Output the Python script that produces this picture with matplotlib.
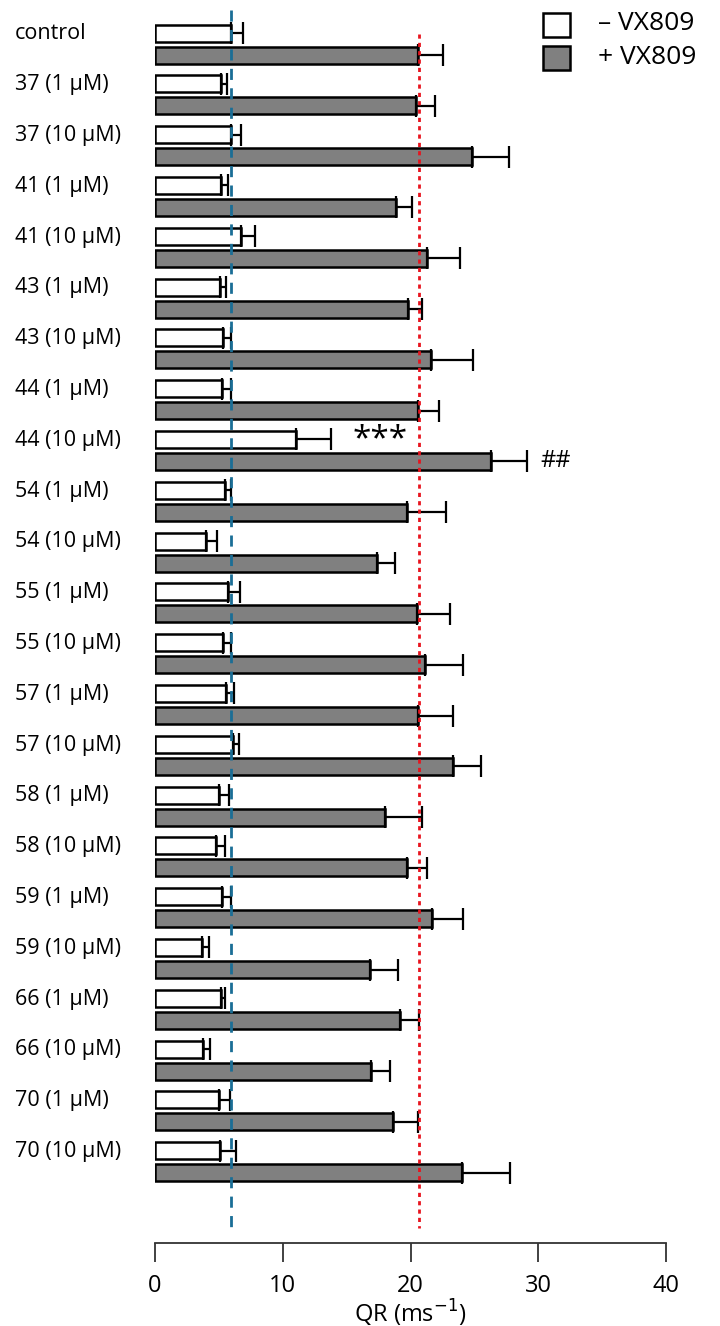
import matplotlib
matplotlib.use("Agg")
import matplotlib.pyplot as plt
import numpy as np
from matplotlib.patches import Rectangle
from matplotlib.transforms import blended_transform_factory

plt.rcParams['font.family'] = ['Open Sans', 'DejaVu Sans']

labels = ["control", "37 (1 µM)", "37 (10 µM)", "41 (1 µM)", "41 (10 µM)", "43 (1 µM)", "43 (10 µM)",
          "44 (1 µM)", "44 (10 µM)", "54 (1 µM)", "54 (10 µM)", "55 (1 µM)", "55 (10 µM)",
          "57 (1 µM)", "57 (10 µM)", "58 (1 µM)", "58 (10 µM)", "59 (1 µM)", "59 (10 µM)",
          "66 (1 µM)", "66 (10 µM)", "70 (1 µM)", "70 (10 µM)"]
minus_vx = [5.92, 5.14, 5.92, 5.14, 6.7, 5.06, 5.35, 5.26, 11.0, 5.49, 4.02, 5.75, 5.32,
            5.52, 6.13, 5.0, 4.77, 5.23, 3.64, 5.14, 3.76, 5.0, 5.12]
minus_err = [0.96, 0.52, 0.78, 0.58, 1.16, 0.49, 0.57, 0.69, 2.8, 0.46, 0.81, 0.9, 0.6,
             0.64, 0.43, 0.78, 0.69, 0.72, 0.55, 0.35, 0.52, 0.84, 1.21]
plus_vx = [20.58, 20.4, 24.8, 18.9, 21.3, 19.8, 21.6, 20.6, 26.3, 19.7, 17.4, 20.5, 21.1,
           20.6, 23.3, 18.0, 19.7, 21.7, 16.8, 19.2, 16.9, 18.6, 24.0]
plus_err = [2.0, 1.5, 2.9, 1.2, 2.6, 1.1, 3.3, 1.6, 2.8, 3.1, 1.4, 2.6, 3.0,
            2.7, 2.2, 2.9, 1.6, 2.4, 2.2, 1.5, 1.5, 2.0, 3.8]
ref_minus = 5.98
ref_plus = 20.7
xticks = [0, 10, 20, 30, 40]

W, H = 720, 1326
fig = plt.figure(figsize=(W/100, H/100), dpi=100)
ax = fig.add_axes([155/W, 1-1243/H, (666-155)/W, (1243-10)/H])

n = len(labels)
y = np.arange(n)
off = 0.217
h = 0.335
ax.barh(y - off, minus_vx, height=h, color='white', edgecolor='black', linewidth=1.8, zorder=2)
ax.barh(y + off, plus_vx, height=h, color='#808080', edgecolor='black', linewidth=1.8, zorder=2)
ax.errorbar(minus_vx, y - off, xerr=[np.zeros(n), minus_err], fmt='none', ecolor='black',
            elinewidth=1.6, capsize=8, capthick=1.6, zorder=3)
ax.errorbar(plus_vx, y + off, xerr=[np.zeros(n), plus_err], fmt='none', ecolor='black',
            elinewidth=1.6, capsize=8, capthick=1.6, zorder=3)

ax.plot([ref_minus, ref_minus], [-0.67, 23.4], color='#1a6e96', linestyle=(0, (4, 3)), lw=2, zorder=4)
ax.plot([ref_plus, ref_plus], [-0.2, 23.3], color='#e8141e', linestyle=(0, (1.5, 1.5)), lw=2, zorder=4)

ax.set_xlim(0, 40)
ax.set_ylim(23.6, -0.67)
for s in ['top', 'right', 'left']:
    ax.spines[s].set_visible(False)
ax.spines['bottom'].set_linewidth(1.3)
ax.spines['bottom'].set_color('#333333')
ax.set_yticks([])
ax.set_xticks(xticks)
ax.tick_params(axis='x', length=14, width=1.3, color='#333333', labelsize=17, pad=8)
ax.set_xlabel('QR (ms$^{-1}$)', fontsize=17, labelpad=0)

tr = blended_transform_factory(fig.transFigure, ax.transData)
for i, lab in enumerate(labels):
    ax.text(15/W, i - 0.2, lab, transform=tr, ha='left', va='center', fontsize=15.5)

ax.text(15.5, 8 - off, '***', fontsize=24, ha='left', va='center')
ax.text(30.2, 8 + off, '##', fontsize=17, ha='left', va='center')

# legend
fig.patches.append(Rectangle((543/W, 1-37/H), 27/W, 24/H, transform=fig.transFigure,
                             facecolor='white', edgecolor='black', lw=1.8))
fig.patches.append(Rectangle((543/W, 1-70/H), 27/W, 24/H, transform=fig.transFigure,
                             facecolor='#808080', edgecolor='black', lw=1.8))
fig.text(598/W, 1-23/H, '– VX809', fontsize=19, va='center', ha='left')
fig.text(598/W, 1-57/H, '+ VX809', fontsize=19, va='center', ha='left')

fig.savefig('out.png', dpi=100)
